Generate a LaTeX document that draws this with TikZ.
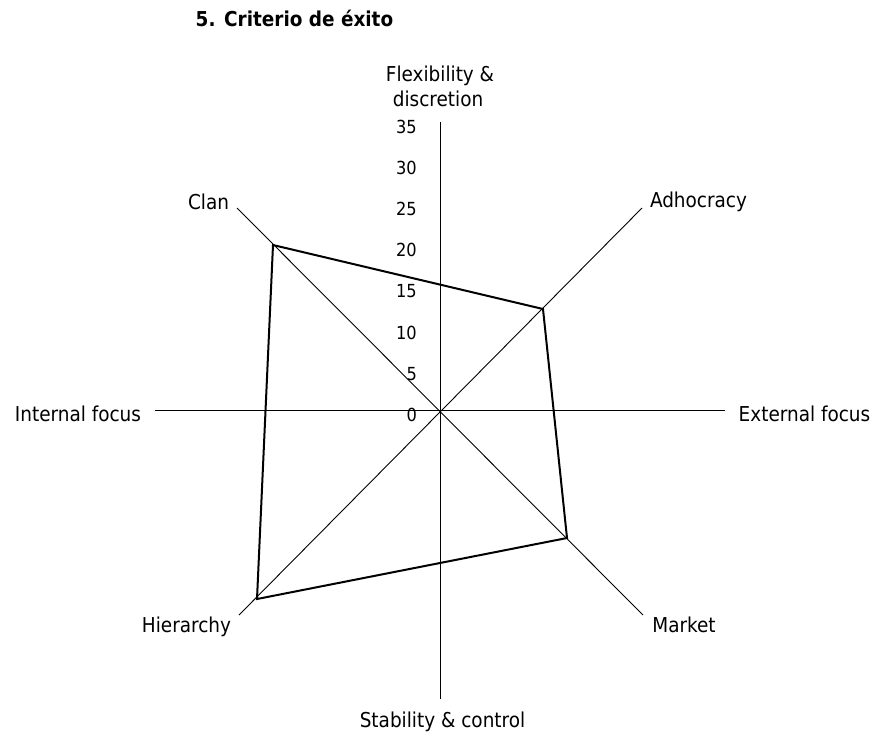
\documentclass[tikz,border=0pt]{standalone}
\usepackage{fontspec}
\setmainfont{DejaVu Sans Condensed}
\begin{document}
\begin{tikzpicture}[x=1pt,y=-1pt,
  axis/.style={line width=0.9pt, black},
  profile/.style={line width=2pt, black, line join=miter},
  lbl/.style={font=\fontsize{20.5}{25}\selectfont, inner sep=0pt, anchor=base},
  num/.style={font=\fontsize{18}{20}\selectfont, inner sep=0pt, anchor=base east},
  ttl/.style={font=\bfseries\fontsize{20.5}{24}\selectfont, inner sep=0pt, anchor=base}]
\useasboundingbox (0,0) rectangle (875,740);

% axis end points
\coordinate (O)  at (440,410);
\coordinate (N)  at (440,122);
\coordinate (S)  at (440,699);
\coordinate (W)  at (155,410);
\coordinate (E)  at (725,410);
\coordinate (NW) at (237,208);
\coordinate (NE) at (642,208);
\coordinate (SW) at (239,615);
\coordinate (SE) at (643,615);

% axes
\draw[axis] (N) -- (S);
\draw[axis] (W) -- (E);
\draw[axis] (NW) -- (SE);
\draw[axis] (NE) -- (SW);

% profile values on the four culture axes
\coordinate (pClan) at (273,245);
\coordinate (pAdho) at (543,309);
\coordinate (pMark) at (567,538);
\coordinate (pHier) at (257,599);
\draw[profile] (pClan) -- (pAdho) -- (pMark) -- (pHier) -- cycle;

% scale
\foreach \v [count=\k from 0] in {0,5,10,15,20,25,30,35}
  \node[num] (n\v) at (417,{421.5-41.2*\k}) {\v};

% title and axis labels
\node[ttl] (title) at (294.5,26) {5. Criterio de éxito};
\node[lbl] (flex1) at (440,81) {Flexibility \&};
\node[lbl] (flex2) at (438,106) {discretion};
\node[lbl] (clan) at (208.5,209) {Clan};
\node[lbl] (adho) at (698.5,207) {Adhocracy};
\node[lbl] (intf) at (78,421.5) {Internal focus};
\node[lbl] (extf) at (804.5,421.5) {External focus};
\node[lbl] (hier) at (186.5,632.5) {Hierarchy};
\node[lbl] (mark) at (684,632) {Market};
\node[lbl] (stab) at (442.5,727) {Stability \& control};
\end{tikzpicture}
\end{document}
